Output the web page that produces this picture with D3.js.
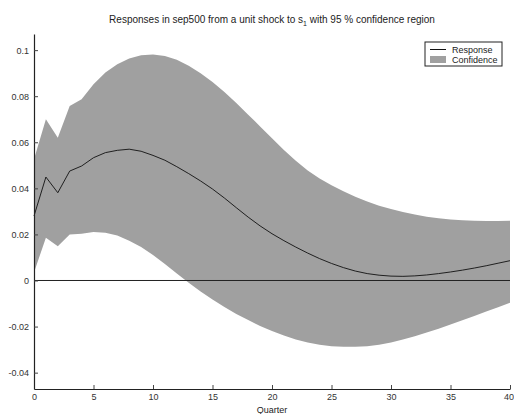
<!DOCTYPE html>
<html>
<head>
<meta charset="utf-8">
<script src="https://cdn.jsdelivr.net/npm/d3@7"></script>
<style>
  body { margin: 0; background: #fff; }
  svg { display: block; font-family: "Liberation Sans", Arial, sans-serif; }
</style>
</head>
<body>
<div id="chart"></div>
<script>
// quarters 0..40
const quarters = d3.range(0, 41);

const response = [
  0.0280, 0.0449, 0.0381, 0.0475, 0.0497, 0.0533, 0.0555, 0.0565, 0.0570, 0.0561,
  0.0543, 0.0522, 0.0494, 0.0464, 0.0432, 0.0397, 0.0358, 0.0316, 0.0275, 0.0237,
  0.0203, 0.0173, 0.0145, 0.0119, 0.0095, 0.0074, 0.0056, 0.0041, 0.0030, 0.0023,
  0.0019, 0.0018, 0.0020, 0.0024, 0.0030, 0.0037, 0.0045, 0.0054, 0.0064, 0.0075,
  0.0086
];

const upper = [
  0.0526, 0.0700, 0.0620, 0.0758, 0.0787, 0.0852, 0.0903, 0.0939, 0.0964, 0.0978,
  0.0981, 0.0975, 0.0958, 0.0932, 0.0900, 0.0862, 0.0818, 0.0770, 0.0720, 0.0669,
  0.0617, 0.0567, 0.0520, 0.0478, 0.0443, 0.0413, 0.0387, 0.0364, 0.0343, 0.0325,
  0.0310, 0.0297, 0.0286, 0.0277, 0.0270, 0.0265, 0.0261, 0.0259, 0.0258, 0.0258,
  0.0259
];

const lower = [
  0.0035, 0.0186, 0.0149, 0.0200, 0.0203, 0.0210, 0.0207, 0.0195, 0.0173, 0.0145,
  0.0111, 0.0072, 0.0030, -0.0010, -0.0048, -0.0083, -0.0115, -0.0145, -0.0172, -0.0197,
  -0.0219, -0.0239, -0.0256, -0.0269, -0.0279, -0.0285, -0.0288, -0.0288, -0.0285, -0.0279,
  -0.0269, -0.0256, -0.0242, -0.0226, -0.0209, -0.0191, -0.0173, -0.0154, -0.0135, -0.0116,
  -0.0097
];

const xTicks = [0, 5, 10, 15, 20, 25, 30, 35, 40];
const yTicks = [-0.04, -0.02, 0, 0.02, 0.04, 0.06, 0.08, 0.1];

const width = 514;
const height = 414;
const margin = { top: 34, right: 4, bottom: 25, left: 34 };

const svg = d3.select('#chart')
  .append('svg')
  .attr('width', width)
  .attr('height', height);

const xScale = d3.scaleLinear()
  .domain([0, 40])
  .range([margin.left, width - margin.right]);

const yScale = d3.scaleLinear()
  .domain([-0.0471, 0.107])
  .range([height - margin.bottom, margin.top]);

const rows = quarters.map((q, i) => ({ q, r: response[i], lo: lower[i], hi: upper[i] }));

// confidence band
svg.append('path')
  .datum(rows)
  .attr('fill', '#a0a0a0')
  .attr('d', d3.area()
    .x(d => xScale(d.q))
    .y0(d => yScale(d.lo))
    .y1(d => yScale(d.hi)));

// zero line
svg.append('line')
  .attr('x1', xScale(0))
  .attr('x2', xScale(40))
  .attr('y1', yScale(0))
  .attr('y2', yScale(0))
  .attr('stroke', '#222')
  .attr('stroke-width', 1);

// response line
svg.append('path')
  .datum(rows)
  .attr('fill', 'none')
  .attr('stroke', '#111')
  .attr('stroke-width', 0.9)
  .attr('d', d3.line()
    .x(d => xScale(d.q))
    .y(d => yScale(d.r)));

// axes with inward ticks
const xAxis = d3.axisBottom(xScale)
  .tickValues(xTicks)
  .tickFormat(d3.format('d'))
  .tickSizeInner(-4)
  .tickSizeOuter(0)
  .tickPadding(5);

const yAxis = d3.axisLeft(yScale)
  .tickValues(yTicks)
  .tickFormat(d => d === 0 ? '0' : String(+d.toFixed(2)))
  .tickSizeInner(-4)
  .tickSizeOuter(0)
  .tickPadding(5);

const gx = svg.append('g')
  .attr('transform', `translate(0, ${height - margin.bottom})`)
  .call(xAxis);

const gy = svg.append('g')
  .attr('transform', `translate(${margin.left}, 0)`)
  .call(yAxis);

[gx, gy].forEach(g => {
  g.select('.domain').attr('stroke', '#222').attr('stroke-width', 1.2);
  g.selectAll('.tick line').attr('stroke', '#444');
  g.selectAll('.tick text')
    .attr('fill', '#333')
    .style('font-size', '9px')
    .style('font-family', '"Liberation Sans", Arial, sans-serif');
});

// keep the last x label inside the window
gx.selectAll('.tick text').filter(d => d === 40).attr('dx', -1.5);

// title
const title = svg.append('text')
  .attr('x', 272)
  .attr('y', 23)
  .attr('text-anchor', 'middle')
  .attr('fill', '#222')
  .style('font-size', '10px');
title.append('tspan').text('Responses in sep500 from a unit shock to s');
title.append('tspan').attr('dy', 3).style('font-size', '7px').text('1');
title.append('tspan').attr('dy', -3).text(' with 95 % confidence region');

// x label
svg.append('text')
  .attr('x', 272)
  .attr('y', 413)
  .attr('text-anchor', 'middle')
  .attr('fill', '#222')
  .style('font-size', '9px')
  .text('Quarter');

// legend
const legend = svg.append('g').attr('transform', 'translate(425, 42)');
legend.append('rect')
  .attr('width', 77)
  .attr('height', 24)
  .attr('fill', '#fff')
  .attr('stroke', '#222')
  .attr('stroke-width', 1);
legend.append('line')
  .attr('x1', 5).attr('x2', 21)
  .attr('y1', 7.5).attr('y2', 7.5)
  .attr('stroke', '#111');
legend.append('rect')
  .attr('x', 5).attr('y', 14)
  .attr('width', 16).attr('height', 7)
  .attr('fill', '#a0a0a0');
legend.append('text')
  .attr('x', 27).attr('y', 10.5)
  .attr('fill', '#222')
  .style('font-size', '9px')
  .text('Response');
legend.append('text')
  .attr('x', 27).attr('y', 21)
  .attr('fill', '#222')
  .style('font-size', '9px')
  .text('Confidence');
</script>
</body>
</html>
